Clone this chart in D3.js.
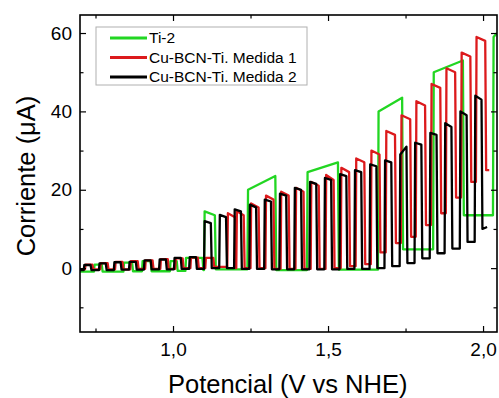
<!DOCTYPE html>
<html>
<head>
<meta charset="utf-8">
<script src="https://cdn.jsdelivr.net/npm/d3@7"></script>
<style>
  body { margin: 0; background: #fff; }
  text { font-family: Arial, "Liberation Sans", sans-serif; fill: #000; }
</style>
</head>
<body>
<div id="chart"></div>
<script>
// chopped-light scans, each row: [light on (V), light off (V), current at on, current before off, dark current after] (uA)
var ti2Pulses = [
    [0.745, 0.770, 0.9, 0.9, -0.9],
    [0.840, 0.868, 1.4, 1.4, -0.8],
    [0.900, 0.928, 1.8, 1.8, -0.8],
    [0.990, 1.012, 1.8, 1.8, -0.7],
    [1.040, 1.095, 2.6, 2.6, -0.5],
    [1.100, 1.135, 14.5, 13.5, -0.3],
    [1.240, 1.330, 20, 23.5, -0.5],
    [1.432, 1.532, 24.5, 27, -0.4],
    [1.661, 1.739, 40, 43.5, 4.8],
    [1.839, 1.935, 50, 53, 13.5],
    [2.032, 2.045, 59, 60, null]
];
var cu1Pulses = [
    [0.716, 0.740, 0.9, 0.9, -0.3],
    [0.765, 0.789, 1.3, 1.3, -0.3],
    [0.813, 0.837, 1.6, 1.6, -0.3],
    [0.862, 0.886, 1.8, 1.8, -0.2],
    [0.910, 0.934, 2.0, 2.0, -0.2],
    [0.959, 0.983, 2.3, 2.3, -0.2],
    [1.007, 1.031, 2.5, 2.5, 0],
    [1.056, 1.080, 2.7, 2.7, 0],
    [1.104, 1.130, 2.6, 2.6, 0.3],
    [1.175, 1.200, 14, 13, 0],
    [1.204, 1.228, 14.5, 13.5, 0],
    [1.250, 1.276, 16.5, 15.5, 0],
    [1.298, 1.324, 18.5, 17.5, -0.2],
    [1.347, 1.373, 19.5, 18.5, -0.2],
    [1.395, 1.421, 20.5, 19.5, -0.2],
    [1.444, 1.470, 22, 21, -0.2],
    [1.492, 1.518, 23.8, 22.5, 0],
    [1.541, 1.568, 25.6, 24.5, 0.5],
    [1.589, 1.617, 28, 27, 1],
    [1.638, 1.666, 30, 29, 4],
    [1.686, 1.716, 35, 34, 6.4],
    [1.735, 1.765, 39, 38, 8],
    [1.783, 1.813, 42.6, 41.5, 11],
    [1.832, 1.862, 47, 46, 14],
    [1.880, 1.910, 51, 50, 18],
    [1.929, 1.959, 55, 54, 22],
    [1.977, 2.007, 59, 58, 25]
];
var cu2Pulses = [
    [0.712, 0.734, 0.8, 0.8, -0.5],
    [0.761, 0.783, 1.2, 1.2, -0.5],
    [0.809, 0.831, 1.5, 1.5, -0.4],
    [0.858, 0.880, 1.6, 1.6, -0.4],
    [0.906, 0.928, 2.0, 2.0, -0.3],
    [0.955, 0.977, 2.2, 2.2, -0.3],
    [1.003, 1.025, 2.6, 2.6, -0.2],
    [1.052, 1.074, 2.8, 2.8, -0.2],
    [1.100, 1.122, 12, 11.5, 0],
    [1.149, 1.171, 13.6, 13, 0],
    [1.197, 1.219, 15, 14.5, -0.2],
    [1.246, 1.268, 16.2, 15.5, -0.2],
    [1.294, 1.316, 17.5, 17, -0.3],
    [1.343, 1.365, 19, 18.5, -0.3],
    [1.391, 1.413, 20.5, 20, -0.3],
    [1.440, 1.462, 22, 21.5, -0.3],
    [1.488, 1.510, 23, 22.5, -0.3],
    [1.537, 1.559, 24, 23.5, -0.2],
    [1.585, 1.607, 25, 24.5, -0.2],
    [1.634, 1.656, 26.5, 26, 0],
    [1.682, 1.704, 27.5, 27, 0.5],
    [1.731, 1.753, 29, 31, 1.3],
    [1.779, 1.801, 32, 31.5, 2.5],
    [1.828, 1.850, 34.5, 34, 3.8],
    [1.876, 1.898, 37, 36, 5],
    [1.925, 1.947, 40, 39, 6.7],
    [1.973, 1.995, 44, 43, 10]
];

var seriesNames = ["Ti-2", "Cu-BCN-Ti. Medida 1", "Cu-BCN-Ti. Medida 2"];
var seriesColors = ["#22d622", "#dc1a1c", "#000000"];
var seriesStart = [[0.70, -0.9], [0.70, -0.3], [0.70, -0.5]];
var seriesEnd = [null, [2.020, 25], [2.013, 10.5]];
var seriesPulses = [ti2Pulses, cu1Pulses, cu2Pulses];

var xMajor = [1.0, 1.5, 2.0],
    xMinor = [0.75, 1.25, 1.75];
var yMajor = [0, 20, 40, 60],
    yMinor = [-10, 10, 30, 50];

var W = 499, H = 398;
var margin = {top: 15, right: 2, bottom: 66, left: 80};
var pw = W - margin.left - margin.right,
    ph = H - margin.top - margin.bottom;

var x = d3.scaleLinear().domain([0.7, 2.045]).range([0, pw]);
var y = d3.scaleLinear().domain([-16.3, 64.6]).range([ph, 0]);

var comma = d3.formatLocale({decimal: ",", thousands: ".", grouping: [3], currency: ["", ""]}).format(".1f");

var svg = d3.select("#chart").append("svg")
    .attr("width", W)
    .attr("height", H);

var g = svg.append("g")
    .attr("transform", "translate(" + margin.left + "," + margin.top + ")");

g.append("clipPath").attr("id", "clip")
  .append("rect").attr("width", pw).attr("height", ph);

// turn the pulse rows into a square-wave trace
function tracePoints(i) {
    var pts = [seriesStart[i]];
    var prev = seriesStart[i][1];
    seriesPulses[i].forEach(function(r) {
        pts.push([r[0], prev]);
        pts.push([r[0] + 0.002, r[2]]);
        pts.push([r[1], r[3]]);
        if (r[4] !== null) {
            pts.push([r[1] + 0.003, r[4]]);
            prev = r[4];
        }
    });
    if (seriesEnd[i]) pts.push(seriesEnd[i]);
    return pts;
}

var line = d3.line()
    .x(function(d){ return x(d[0]); })
    .y(function(d){ return y(d[1]); });

var traces = g.append("g").attr("clip-path", "url(#clip)");
[0, 1, 2].forEach(function(i) {
    traces.append("path")
        .attr("d", line(tracePoints(i)))
        .attr("fill", "none")
        .attr("stroke", seriesColors[i])
        .attr("stroke-width", 2.3)
        .attr("stroke-linejoin", "round");
});

// axes, ticks point inward on all four sides
function styleAxis(sel) {
    sel.select(".domain").remove();
    sel.selectAll("line").attr("stroke", "#000").attr("stroke-width", 1.2);
    sel.selectAll("text").style("font-size", "19px").style("font-family", "Arial, 'Liberation Sans', sans-serif");
}

g.append("g").attr("transform", "translate(0," + ph + ")")
    .call(d3.axisBottom(x).tickValues(xMajor).tickSize(-6).tickPadding(11).tickFormat(comma))
    .call(styleAxis);
g.append("g").attr("transform", "translate(0," + ph + ")")
    .call(d3.axisBottom(x).tickValues(xMinor).tickSize(-3.5).tickFormat(""))
    .call(styleAxis);
g.append("g")
    .call(d3.axisTop(x).tickValues(xMajor).tickSize(-6).tickFormat(""))
    .call(styleAxis);
g.append("g")
    .call(d3.axisTop(x).tickValues(xMinor).tickSize(-3.5).tickFormat(""))
    .call(styleAxis);

g.append("g")
    .call(d3.axisLeft(y).tickValues(yMajor).tickSize(-6).tickPadding(8).tickFormat(d3.format("d")))
    .call(styleAxis);
g.append("g")
    .call(d3.axisLeft(y).tickValues(yMinor).tickSize(-3.5).tickFormat(""))
    .call(styleAxis);
g.append("g").attr("transform", "translate(" + pw + ",0)")
    .call(d3.axisRight(y).tickValues(yMajor).tickSize(-6).tickFormat(""))
    .call(styleAxis);
g.append("g").attr("transform", "translate(" + pw + ",0)")
    .call(d3.axisRight(y).tickValues(yMinor).tickSize(-3.5).tickFormat(""))
    .call(styleAxis);

g.append("rect")
    .attr("width", pw)
    .attr("height", ph)
    .attr("fill", "none")
    .attr("stroke", "#000")
    .attr("stroke-width", 1.6);

// axis titles
svg.append("text")
    .attr("x", margin.left + x(1.37))
    .attr("y", 393)
    .attr("text-anchor", "middle")
    .style("font-size", "25.5px")
    .text("Potencial (V vs NHE)");

svg.append("text")
    .attr("transform", "translate(35," + 176 + ") rotate(-90)")
    .attr("text-anchor", "middle")
    .style("font-size", "25.5px")
    .text("Corriente (\u03bcA)");

// legend
var legend = g.append("g").attr("transform", "translate(16,12)");
legend.append("rect")
    .attr("width", 211)
    .attr("height", 58)
    .attr("fill", "#fff")
    .attr("stroke", "#b0b0b0")
    .attr("stroke-width", 1);

seriesNames.forEach(function(name, i) {
    var row = legend.append("g").attr("transform", "translate(0," + (11 + i * 19.5) + ")");
    row.append("line")
        .attr("x1", 14).attr("x2", 51)
        .attr("stroke", seriesColors[i])
        .attr("stroke-width", 3);
    row.append("text")
        .attr("x", 53)
        .attr("dy", "0.35em")
        .style("font-size", "15.5px")
        .text(name);
});
</script>
</body>
</html>
